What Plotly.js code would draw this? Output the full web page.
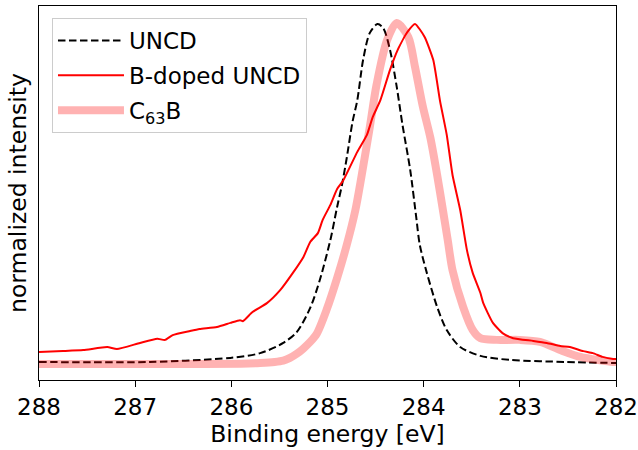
<!DOCTYPE html>
<html>
<head>
<meta charset="utf-8">
<script src="https://cdn.plot.ly/plotly-3.0.1.min.js"></script>
<style>html,body{margin:0;padding:0;background:#fff;}#chart{width:638px;height:450px;}</style>
</head>
<body>
<div id="chart"></div>
<script>
// UNCD
const uncdE = [288.00, 286.85, 286.01, 285.70, 285.46, 285.32, 285.18, 285.08, 284.97, 284.90, 284.85, 284.80, 284.74, 284.69, 284.63, 284.56, 284.48, 284.42, 284.35, 284.28, 284.22, 284.14, 284.08, 284.04, 283.97, 283.86, 283.76, 283.62, 283.41, 283.10, 282.51, 282.00];
const uncdI = [0.006, 0.006, 0.018, 0.032, 0.062, 0.094, 0.165, 0.247, 0.365, 0.462, 0.526, 0.606, 0.712, 0.776, 0.894, 0.974, 1.000, 0.988, 0.924, 0.815, 0.703, 0.571, 0.438, 0.350, 0.271, 0.168, 0.100, 0.050, 0.024, 0.012, 0.006, 0.003];
// B-doped UNCD
const bdopedE = [288.00, 287.75, 287.54, 287.29, 287.19, 286.95, 286.77, 286.69, 286.61, 286.43, 286.33, 286.15, 286.01, 285.91, 285.88, 285.78, 285.63, 285.49, 285.36, 285.25, 285.18, 285.10, 285.05, 284.97, 284.90, 284.84, 284.69, 284.59, 284.53, 284.45, 284.35, 284.27, 284.17, 284.09, 283.99, 283.90, 283.83, 283.76, 283.70, 283.62, 283.55, 283.49, 283.41, 283.38, 283.28, 283.18, 283.07, 282.86, 282.72, 282.58, 282.48, 282.34, 282.24, 282.14, 282.03, 282.00];
const bdopedI = [0.035, 0.038, 0.041, 0.050, 0.044, 0.062, 0.074, 0.071, 0.085, 0.097, 0.103, 0.109, 0.121, 0.129, 0.126, 0.153, 0.179, 0.218, 0.268, 0.315, 0.359, 0.385, 0.424, 0.468, 0.515, 0.538, 0.624, 0.674, 0.726, 0.776, 0.865, 0.924, 0.976, 1.000, 0.962, 0.894, 0.774, 0.674, 0.556, 0.453, 0.335, 0.268, 0.209, 0.179, 0.121, 0.091, 0.076, 0.068, 0.062, 0.053, 0.050, 0.038, 0.032, 0.021, 0.015, 0.015];
// C63B
const c63bE = [288.00, 286.50, 285.90, 285.70, 285.55, 285.46, 285.39, 285.32, 285.25, 285.18, 285.11, 285.01, 284.90, 284.80, 284.71, 284.63, 284.56, 284.49, 284.38, 284.28, 284.16, 284.09, 284.01, 283.93, 283.86, 283.80, 283.75, 283.70, 283.59, 283.49, 283.41, 283.24, 283.00, 282.79, 282.58, 282.37, 282.03, 282.00];
const c63bI = [0.000, 0.000, 0.001, 0.003, 0.006, 0.010, 0.018, 0.030, 0.046, 0.065, 0.090, 0.159, 0.253, 0.350, 0.453, 0.579, 0.697, 0.821, 0.953, 1.003, 0.962, 0.874, 0.759, 0.665, 0.556, 0.453, 0.365, 0.276, 0.168, 0.100, 0.076, 0.071, 0.071, 0.065, 0.041, 0.021, 0.006, 0.006];

const xTicks = [288, 287, 286, 285, 284, 283, 282];

const traces = [
  {x: uncdE, y: uncdI, name: 'UNCD', legendgroup: 'a', mode: 'lines', line: {color: '#000000', width: 2, dash: '7.5px,3.5px', shape: 'spline', smoothing: 0.8}},
  {x: bdopedE, y: bdopedI, name: 'B-doped UNCD', legendgroup: 'b', mode: 'lines', line: {color: '#ff0000', width: 2, shape: 'spline', smoothing: 0.5}},
  {x: c63bE, y: c63bI, name: 'C<sub>63</sub>B', legendgroup: 'c', mode: 'lines', line: {color: 'rgba(255,0,0,0.3)', width: 8, shape: 'spline', smoothing: 0.8}}
];

const layout = {
  width: 638, height: 450,
  margin: {l: 39, r: 22, t: 6, b: 70},
  paper_bgcolor: '#fff', plot_bgcolor: '#fff',
  font: {family: 'DejaVu Sans', size: 23, color: '#000'},
  showlegend: true,
  legend: {x: 0.0225, y: 0.968, xanchor: 'left', yanchor: 'top', bordercolor: '#cccccc', borderwidth: 1,
           bgcolor: 'rgba(255,255,255,0.8)', font: {family: 'DejaVu Sans', size: 23}, itemwidth: 66,
           traceorder: 'grouped', tracegroupgap: 2},
  xaxis: {range: [288, 282], tickvals: xTicks, ticktext: xTicks.map(String), ticks: 'outside', ticklen: 6, tickwidth: 1,
          tickfont: {size: 23}, automargin: false,
          tickcolor: '#000', showline: true, linecolor: '#000', linewidth: 1, mirror: true, showgrid: false, zeroline: false,
          title: {text: 'Binding energy [eV]', font: {size: 23.5}, standoff: 3}},
  yaxis: {range: [-0.047, 1.053], showticklabels: false, ticks: '', showline: true, linecolor: '#000', linewidth: 1, mirror: true,
          automargin: false,
          showgrid: false, zeroline: false, title: {text: 'normalized intensity', font: {size: 23.5}, standoff: 4}}
};

Plotly.newPlot('chart', traces, layout, {staticPlot: true, displayModeBar: false});
</script>
</body>
</html>
